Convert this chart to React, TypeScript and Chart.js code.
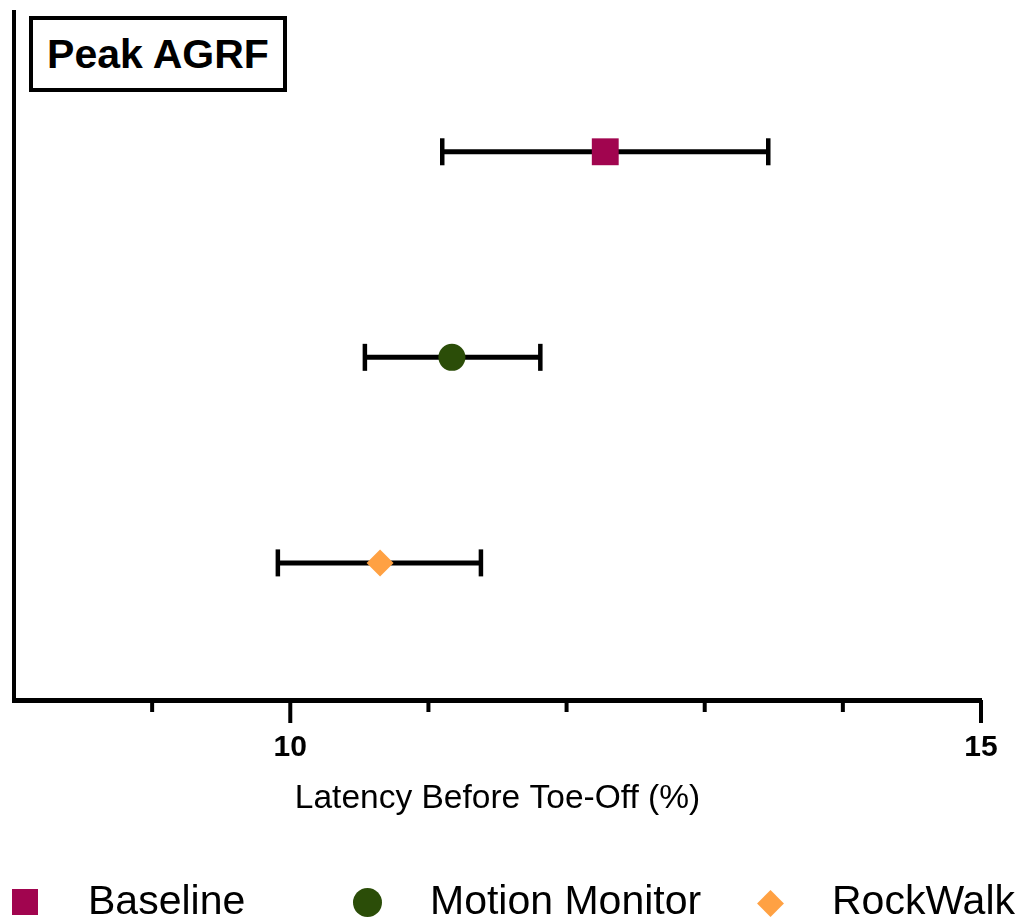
import React, { useEffect, useRef } from "react";
import { Chart, registerables } from "chart.js";

Chart.register(...registerables);

// ---- data ----
const groups = ["Baseline", "Motion Monitor", "RockWalk"];
const groupRows = [3, 2, 1];
const means = [12.28, 11.17, 10.65];
const lowers = [11.1, 10.54, 9.91];
const uppers = [13.46, 11.81, 11.38];
const colors = ["#A1054F", "#2B4D08", "#FFA143"];
const pointStyles = ["rect", "circle", "rectRot"];
const pointRadii = [19, 13.5, 13.5];
const xTickValues = [9, 10, 11, 12, 13, 14, 15];
const xMajorTicks = [10, 15];
const xMin = 8;
const xMax = 15;
const yMin = 0.333;
const yMax = 3.68;
const titleText = "Peak AGRF";
const xTitle = "Latency Before Toe-Off (%)";

// ---- layout (not data) ----
const legendMarkerLeft = [12, 353, 757];
const legendTextLeft = [88, 430, 832];
const FONT = '"Liberation Sans", Arial, Helvetica, sans-serif';

const tickPlugin = {
  id: "customTicks",
  afterDraw(chart: any) {
    const x = chart.scales.x;
    const ctx = chart.ctx;
    const base = chart.chartArea.bottom;
    ctx.save();
    ctx.strokeStyle = "#000";
    ctx.lineWidth = 4;
    for (const v of xTickValues) {
      const px = x.getPixelForValue(v);
      const len = xMajorTicks.includes(v) ? 23 : 12;
      ctx.beginPath();
      ctx.moveTo(px, base);
      ctx.lineTo(px, base + len);
      ctx.stroke();
    }
    ctx.restore();
  },
};

export default function App() {
  const canvasRef = useRef<HTMLCanvasElement | null>(null);

  useEffect(() => {
    if (!canvasRef.current) return;
    const markerSets = groups.map((g, i) => ({
      label: g,
      data: [{ x: means[i], y: groupRows[i] }],
      pointStyle: pointStyles[i],
      pointRadius: pointRadii[i],
      pointBackgroundColor: colors[i],
      pointBorderColor: colors[i],
      pointBorderWidth: 0,
      showLine: false,
    }));
    const errSets = groups.map((g, i) => ({
      label: g + " SD",
      data: [
        { x: lowers[i], y: groupRows[i] },
        { x: uppers[i], y: groupRows[i] },
      ],
      showLine: true,
      borderColor: "#000",
      borderWidth: 5,
      pointStyle: "line",
      rotation: 90,
      pointRadius: 13.5,
      pointBorderWidth: 4.5,
      pointBorderColor: "#000",
      pointBackgroundColor: "#000",
    }));

    const chart = new Chart(canvasRef.current, {
      type: "scatter",
      data: { datasets: [...markerSets, ...errSets] as any },
      plugins: [tickPlugin],
      options: {
        animation: false,
        responsive: false,
        maintainAspectRatio: false,
        layout: { autoPadding: false, padding: { left: 14, top: 12, right: 46, bottom: 0 } },
        plugins: {
          legend: { display: false },
          tooltip: { enabled: false },
          title: { display: false },
        },
        scales: {
          x: {
            type: "linear",
            min: xMin,
            max: xMax,
            grid: { display: false, drawTicks: false },
            border: { display: true, color: "#000", width: 5 },
            ticks: {
              stepSize: 1,
              autoSkip: false,
              maxRotation: 0,
              minRotation: 0,
              padding: 30,
              color: "#000",
              font: { family: FONT, size: 30, weight: "bold" },
              callback: (v: any) => (xMajorTicks.includes(Number(v)) ? String(v) : ""),
            },
            title: {
              display: true,
              text: xTitle,
              color: "#000",
              font: { family: FONT, size: 33.5, weight: "normal" },
              padding: { top: 0, bottom: 101 },
            },
            afterFit: (s: any) => {
              s.height = 220;
              s.paddingLeft = 0;
              s.paddingRight = 0;
            },
          },
          y: {
            type: "linear",
            min: yMin,
            max: yMax,
            grid: { display: false, drawTicks: false },
            border: { display: true, color: "#000", width: 4 },
            ticks: { display: false },
            afterFit: (s: any) => {
              s.width = 0;
              s.paddingTop = 0;
              s.paddingBottom = 0;
            },
          },
        },
      } as any,
    });
    return () => chart.destroy();
  }, []);

  return (
    <div style={{ position: "absolute", left: 0, top: 0, width: 1027, height: 920, background: "#fff" }}>
      <canvas
        ref={canvasRef}
        width={1027}
        height={920}
        style={{ position: "absolute", left: 0, top: 0, display: "block" }}
      />
      <div
        style={{
          position: "absolute",
          left: 29,
          top: 16,
          width: 258,
          height: 76,
          boxSizing: "border-box",
          border: "4px solid #000",
          display: "flex",
          alignItems: "center",
          justifyContent: "center",
          fontFamily: FONT,
          fontWeight: "bold",
          fontSize: 41,
          color: "#000",
          background: "#fff",
        }}
      >
        {titleText}
      </div>
      {groups.map((g, i) => {
        const style = pointStyles[i];
        let marker: any;
        if (style === "rect") {
          marker = { left: legendMarkerLeft[i], top: 889, width: 26, height: 26, background: colors[i] };
        } else if (style === "circle") {
          marker = { left: legendMarkerLeft[i], top: 888, width: 29, height: 29, borderRadius: "50%", background: colors[i] };
        } else {
          marker = {
            left: legendMarkerLeft[i] + 4,
            top: 893.5,
            width: 19,
            height: 19,
            background: colors[i],
            transform: "rotate(45deg)",
          };
        }
        return (
          <React.Fragment key={g}>
            <div style={{ position: "absolute", ...marker }} />
            <div
              style={{
                position: "absolute",
                left: legendTextLeft[i],
                top: 880,
                fontFamily: FONT,
                fontSize: 41,
                lineHeight: "41px",
                color: "#000",
                whiteSpace: "nowrap",
              }}
            >
              {g}
            </div>
          </React.Fragment>
        );
      })}
    </div>
  );
}
